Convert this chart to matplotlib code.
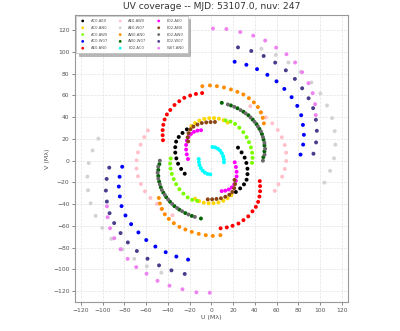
import matplotlib
matplotlib.use("Agg")
import matplotlib.pyplot as plt
import numpy as np


TITLE = "UV coverage -- MJD: 53107.0, nuv: 247"

baselines = [
    "AC0-AE0", "AC0-AN0", "AC0-AW0", "AC0-W07", "AE0-AN0",
    "AE0-AW0", "AE0-W07", "AW0-AN0", "AW0-W07", "E02-AC0",
    "E02-AE0", "E02-AN0", "E02-AW0", "E02-W07", "W07-AN0",
]

colors = [
    "black", "gold", "lawngreen", "blue", "red",
    "pink", "lightgray", "darkorange", "darkgreen", "cyan",
    "magenta", "saddlebrown", "dimgray", "darkslateblue", "violet",
]

# u, v in mega-lambda (the conjugate -u, -v is plotted as well)
u_ac0_ae0 = [24.5, 27.8, 30.6, 32.2, 33.2, 33.2, 32.4, 30.0, 26.5, 22.5, 18.0]
v_ac0_ae0 = [12.0, 7.6, 2.8, -2.1, -7.4, -12.4, -17.5, -21.8, -25.5, -28.8, -31.5]

u_ac0_an0 = [-18.3, -15.0, -11.0, -6.5, -2.0, 2.5, 7.0, 11.3, 15.0]
v_ac0_an0 = [31.8, 34.6, 36.9, 38.4, 39.1, 39.2, 38.6, 37.2, 35.0]

u_ac0_aw0 = [13.1, 17.6, 21.8, 25.7, 29.4, 32.4, 34.6, 36.4, 37.5, 37.9, 37.4]
v_ac0_aw0 = [37.0, 36.0, 33.8, 30.3, 26.2, 21.6, 17.0, 12.2, 7.3, 2.6, -2.0]

u_ac0_w07 = [21.4, 32.2, 42.0, 51.5, 59.9, 67.1, 73.8, 79.0, 82.6, 84.2, 85.1, 84.4, 82.0]
v_ac0_w07 = [91.0, 88.2, 84.2, 79.0, 73.0, 66.0, 58.4, 50.4, 41.8, 32.9, 23.8, 14.8, 5.6]

u_ae0_an0 = [-8.5, -14.2, -19.5, -24.9, -29.5, -33.9, -37.8, -40.9, -43.0, -44.2, -44.8, -44.8, -44.5]
v_ae0_an0 = [62.2, 61.4, 59.9, 57.8, 54.7, 51.2, 46.6, 42.5, 37.9, 33.0, 28.1, 23.4, 18.8]

u_ae0_aw0 = [35.8, 45.9, 50.1, 56.0, 61.1, 64.8, 67.5, 68.8, 68.8, 67.5, 65.1, 61.7, 58.3]
v_ae0_aw0 = [50.2, 44.4, 39.8, 34.3, 28.2, 21.5, 14.4, 7.3, -0.3, -7.6, -14.7, -21.7, -27.8]

u_ae0_w07 = [46.0, 59.3, 70.9, 81.9, 92.0, 100.3, 106.4, 111.0, 113.4, 114.0, 112.8, 109.2, 103.9]
v_ae0_w07 = [103.0, 97.2, 90.3, 81.7, 71.9, 61.8, 50.8, 39.2, 27.2, 14.7, 2.2, -9.4, -20.2]

u_aw0_an0 = [-8.3, -1.3, 5.1, 11.6, 18.0, 23.9, 29.4, 34.5, 39.1, 42.8, 45.5, 47.3, 48.3]
v_aw0_an0 = [68.5, 69.2, 68.5, 67.3, 65.5, 63.3, 60.9, 57.5, 53.6, 49.3, 44.4, 39.4, 34.3]

u_aw0_w07 = [9.6, 18.0, 24.0, 29.5, 34.0, 38.0, 41.5, 44.2, 46.5, 48.0, 48.8, 48.8, 47.8]
v_aw0_w07 = [53.2, 50.8, 48.2, 45.0, 41.8, 37.8, 33.6, 29.3, 24.5, 19.3, 14.0, 8.5, 3.2]

u_e02_ac0 = [1.0, 3.5, 6.0, 8.0, 9.7, 10.9, 11.5, 11.6]
v_e02_ac0 = [12.6, 12.2, 11.0, 9.2, 6.8, 4.0, 1.2, -1.5]

u_e02_ae0 = [21.5, 22.6, 23.2, 23.2, 22.5, 21.0, 18.8, 16.0, 12.8, 9.5]
v_e02_ae0 = [-1.5, -5.8, -10.2, -14.5, -18.5, -21.8, -24.6, -26.5, -27.6, -28.0]

u_e02_an0 = [-21.3, -21.8, -21.0, -19.3, -16.5, -12.8, -8.8, -4.7, -0.7, 3.3]
v_e02_an0 = [17.7, 21.5, 25.3, 28.8, 31.3, 33.2, 34.6, 35.2, 35.5, 35.6]

u_e02_aw0 = [15.2, 21.1, 26.9, 31.5, 36.0, 39.7, 42.8, 45.5, 47.4, 48.8, 49.4, 48.9, 47.4]
v_e02_aw0 = [51.7, 49.5, 46.5, 43.5, 39.8, 35.8, 31.5, 27.0, 21.8, 16.5, 11.0, 5.5, 0.0]

u_e02_w07 = [24.5, 36.7, 48.1, 58.7, 68.5, 76.8, 83.5, 89.4, 93.6, 96.1, 97.0, 96.3, 93.9]
v_e02_w07 = [104.2, 100.9, 96.3, 90.2, 83.1, 75.2, 66.6, 57.4, 48.3, 37.6, 27.5, 16.8, 6.4]

u_w07_an0 = [1.5, 13.8, 26.6, 38.5, 49.5, 59.6, 69.1, 77.0, 83.5, 89.3, 93.2, 95.4, 96.0]
v_w07_an0 = [121.5, 121.1, 118.3, 115.0, 110.5, 104.0, 97.9, 90.3, 81.4, 71.3, 62.1, 52.0, 42.0]

u_list = [u_ac0_ae0, u_ac0_an0, u_ac0_aw0, u_ac0_w07, u_ae0_an0,
          u_ae0_aw0, u_ae0_w07, u_aw0_an0, u_aw0_w07, u_e02_ac0,
          u_e02_ae0, u_e02_an0, u_e02_aw0, u_e02_w07, u_w07_an0]
v_list = [v_ac0_ae0, v_ac0_an0, v_ac0_aw0, v_ac0_w07, v_ae0_an0,
          v_ae0_aw0, v_ae0_w07, v_aw0_an0, v_aw0_w07, v_e02_ac0,
          v_e02_ae0, v_e02_an0, v_e02_aw0, v_e02_w07, v_w07_an0]


fig = plt.figure(figsize=(4.0, 3.31), dpi=100)
ax = fig.add_axes([0.1875, 0.0876, 0.6818, 0.8671])

for name, color, u, v in zip(baselines, colors, u_list, v_list):
    u = np.array(u)
    v = np.array(v)
    ax.scatter(np.concatenate([u, -u]), np.concatenate([v, -v]),
               s=8, color=color, edgecolors="none", label=name, zorder=3)

ax.set_xlim(-125.4, 125.4)
ax.set_ylim(-130.0, 134.0)
ax.set_xticks(np.arange(-120, 121, 20))
ax.set_yticks(np.arange(-120, 121, 20))

ax.grid(True, linestyle="--", color="#e3e3e3", linewidth=0.5, zorder=0)
ax.set_axisbelow(True)

for spine in ax.spines.values():
    spine.set_color("#999999")
    spine.set_linewidth(0.8)

ax.tick_params(labelsize=4.3, colors="#555555", length=2.5, width=0.5,
               pad=1.5)

ax.set_xlabel("U (M\u03bb)", fontsize=4.6, color="#555555", labelpad=2)
ax.set_ylabel("V (M\u03bb)", fontsize=4.6, color="#555555", labelpad=2)
ax.set_title(TITLE, fontsize=6.6, color="#333333", pad=4)

leg = ax.legend(loc="upper left", ncol=3, fontsize=2.7, markerscale=0.7,
                frameon=True, fancybox=False,
                shadow={"color": "#888888", "alpha": 0.6},
                borderpad=0.8, labelspacing=0.75, columnspacing=2.2,
                handletextpad=1.2, borderaxespad=0.25)
leg.get_frame().set_edgecolor("#bbbbbb")
leg.get_frame().set_linewidth(0.5)
for text in leg.get_texts():
    text.set_color("#555555")

fig.savefig("out.png", dpi=100)
